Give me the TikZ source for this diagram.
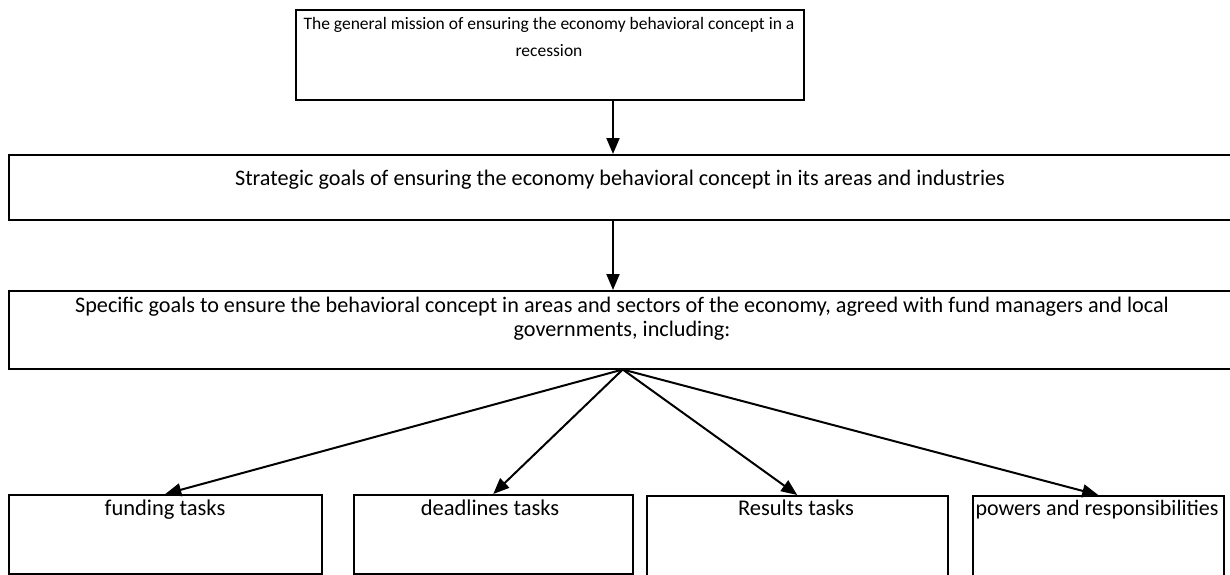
\documentclass[tikz,border=0pt]{standalone}
\usepackage{fontspec}
\setmainfont{Carlito}
\usetikzlibrary{arrows.meta}
\begin{document}
\begin{tikzpicture}[x=1pt,y=-1pt,
  box/.style={draw=black, line width=1.5pt, inner sep=0pt, anchor=north west},
  txt/.style={inner sep=0pt, align=center, text=black},
  small/.style={anchor=base, font=\fontsize{22.5}{26}\selectfont},
  conn/.style={line width=2pt, -{Triangle[length=16pt,width=13pt]}}]
\useasboundingbox (0,0) rectangle (1230,574);
% boxes
\node[box, minimum width=508pt, minimum height=90pt] (b1) at (295,9) {};
\node[box, minimum width=1228pt, minimum height=65pt] (b2) at (8,154) {};
\node[box, minimum width=1228pt, minimum height=78pt] (b3) at (8,290) {};
\node[box, minimum width=313pt, minimum height=79pt] (f1) at (8,494) {};
\node[box, minimum width=279pt, minimum height=79pt] (f2) at (353,494) {};
\node[box, minimum width=301pt, minimum height=84pt] (f3) at (646,495) {};
\node[box, minimum width=251pt, minimum height=84pt] (f4) at (972,495) {};
% texts
\node[txt, font=\fontsize{17.5}{27}\selectfont] (t1) at (549,36.5)
  {The general mission of ensuring the economy behavioral concept in a\\recession};
\node[txt, font=\fontsize{22.2}{25}\selectfont] (t2) at (620,180)
  {Strategic goals of ensuring the economy behavioral concept in its areas and industries};
\node[txt, font=\fontsize{22.2}{24}\selectfont] (t3) at (622,319)
  {Specific goals to ensure the behavioral concept in areas and sectors of the economy, agreed with fund managers and local\\governments, including:};
\node[txt, small] (u1) at (165,515) {funding tasks};
\node[txt, small] (u2) at (490,515) {deadlines tasks};
\node[txt, small] (u3) at (796,515) {Results tasks};
\node[txt, small, font=\fontsize{22}{26}\selectfont] (u4) at (1097,515) {powers and responsibilities};
% connectors
\coordinate (k) at (613,0);
\draw[conn] (k |- b1.south) -- (k |- b2.north);
\draw[conn] (k |- b2.south) -- (k |- b3.north);
\draw[conn] (b3.south) -- (f1.north);
\draw[conn] (b3.south) -- (f2.north);
\draw[conn] (b3.south) -- (f3.north);
\draw[conn] (b3.south) -- (f4.north);
\end{tikzpicture}
\end{document}
